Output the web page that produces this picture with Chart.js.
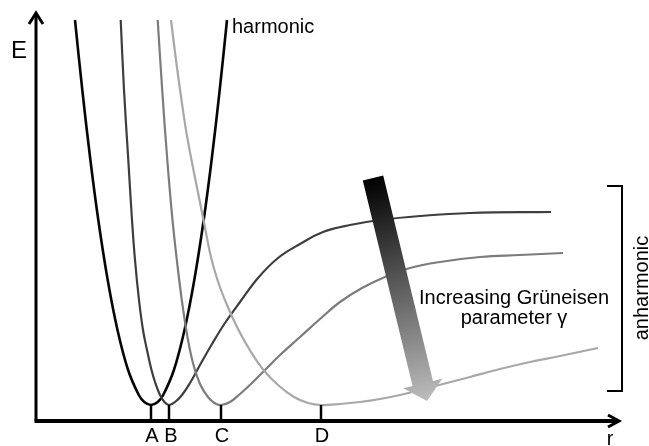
<!DOCTYPE html>
<html>
<head>
<meta charset="utf-8">
<script src="https://cdn.jsdelivr.net/npm/chart.js@4.4.1/dist/chart.umd.min.js"></script>
<style>
  html, body { margin: 0; padding: 0; background: #fff; }
  #wrap { width: 649px; height: 446px; position: relative; }
</style>
</head>
<body>
<div id="wrap"><canvas id="chart"></canvas></div>
<script>
// E(r) curves, arbitrary units (origin at the axes corner)

// harmonic well, minimum at A
const HARM_R = [39, 46.3, 54.4, 62.3, 71.7, 81.5, 92.1, 102.8, 108.3, 115, 121.7, 127.2, 137.9, 148.5, 158.3, 167.7, 175.6, 183.7, 191];
const HARM_E = [401, 331, 261, 201, 141, 91, 51, 26, 19, 16, 19, 26, 51, 91, 141, 201, 261, 331, 401];

// anharmonic wells, minima at B, C, D
const WELL_B_R = [84.7, 88, 92.3, 96, 99, 103, 107, 111, 115, 119, 124, 128.5, 133, 139, 146, 154, 164, 176, 189, 204, 222, 242, 264, 287, 314, 344, 384, 434, 515];
const WELL_B_E = [401, 331, 261, 201, 161, 121, 91, 71, 53, 39, 26, 19, 16, 19, 26, 38, 56, 77, 98, 119, 143, 163, 177, 189, 196, 201, 205, 208, 209];

const WELL_C_R = [121.7, 126.2, 131.3, 136.5, 142, 146.5, 152, 157.5, 164.5, 172, 178.5, 185, 194, 204, 216, 227, 244, 264, 284, 304, 326, 349, 374, 404, 444, 484, 527];
const WELL_C_E = [401, 331, 261, 201, 151, 116, 81, 56, 36, 24, 18, 16, 19, 27, 38, 49, 66, 84, 102, 119, 133, 144, 153, 159, 164, 166, 168];

const WELL_D_R = [135, 140, 145.5, 150, 155.5, 161.5, 168.5, 174.5, 181.5, 191, 202.5, 215, 227.5, 242, 258, 272, 285, 304, 324, 344, 364, 384, 407, 434, 464, 494, 524, 562];
const WELL_D_E = [401, 361, 321, 291, 261, 231, 196, 166, 141, 116, 91, 69, 51, 36, 24, 18, 16, 17, 19, 22, 26, 31, 37, 44, 52, 59, 65, 73];

// equilibrium positions marked on the r axis
const TICK_R = [115, 133, 185, 285];
const TICK_LABELS = ['A', 'B', 'C', 'D'];
const MIN_E = 16;

// "anharmonic" bracket and the Grüneisen arrow
const BRACKET_R = [571, 586, 586, 571];
const BRACKET_E = [235, 235, 30, 30];
const ARROW_FROM = [337, 243];
const ARROW_TO = [391, 20];

const FONT = '"Liberation Sans", Arial, sans-serif';

const toXY = (rs, es) => rs.map((r, i) => ({ x: r, y: es[i] }));

function curve(rs, es, color, width) {
  return {
    data: toXY(rs, es),
    borderColor: color,
    borderWidth: width,
    pointRadius: 0,
    fill: false,
    tension: 0.4
  };
}

const overlay = {
  id: 'overlay',
  afterDatasetsDraw(chart) {
    const { ctx, scales: { x, y } } = chart;
    const px = v => x.getPixelForValue(v);
    const py = v => y.getPixelForValue(v);
    ctx.save();
    ctx.strokeStyle = '#000';
    ctx.fillStyle = '#000';

    // markers at the minima
    ctx.lineWidth = 2.5;
    for (const r of TICK_R) {
      ctx.beginPath();
      ctx.moveTo(px(r), py(0));
      ctx.lineTo(px(r), py(MIN_E));
      ctx.stroke();
    }

    // axes with open arrow heads
    const x0 = px(0), y0 = py(0);
    const yTop = py(408), xEnd = px(583);
    ctx.lineWidth = 3;
    ctx.beginPath();
    ctx.moveTo(x0, y0);
    ctx.lineTo(x0, yTop + 1);
    ctx.stroke();
    ctx.beginPath();
    ctx.moveTo(x0 - 7, yTop + 11);
    ctx.lineTo(x0, yTop);
    ctx.lineTo(x0 + 7, yTop + 11);
    ctx.stroke();

    ctx.lineWidth = 4;
    ctx.beginPath();
    ctx.moveTo(x0 - 1.5, y0);
    ctx.lineTo(xEnd - 1, y0);
    ctx.stroke();
    ctx.lineWidth = 3;
    ctx.beginPath();
    ctx.moveTo(xEnd - 11, y0 - 6);
    ctx.lineTo(xEnd, y0);
    ctx.lineTo(xEnd - 11, y0 + 6);
    ctx.stroke();

    // gradient arrow
    const sx = px(ARROW_FROM[0]), sy = py(ARROW_FROM[1]);
    const tx = px(ARROW_TO[0]), ty = py(ARROW_TO[1]);
    const len = Math.hypot(tx - sx, ty - sy);
    const ux = (tx - sx) / len, uy = (ty - sy) / len;
    const nx = -uy, ny = ux;
    const shaft = 10.5, head = 20, headLen = 18;
    const bx = tx - ux * headLen, by = ty - uy * headLen;
    const grad = ctx.createLinearGradient(sx, sy, tx, ty);
    grad.addColorStop(0, '#000');
    grad.addColorStop(1, '#bdbdbd');
    ctx.fillStyle = grad;
    ctx.beginPath();
    ctx.moveTo(sx + nx * shaft, sy + ny * shaft);
    ctx.lineTo(bx + nx * shaft, by + ny * shaft);
    ctx.lineTo(bx + nx * head, by + ny * head);
    ctx.lineTo(tx, ty);
    ctx.lineTo(bx - nx * head, by - ny * head);
    ctx.lineTo(bx - nx * shaft, by - ny * shaft);
    ctx.lineTo(sx - nx * shaft, sy - ny * shaft);
    ctx.closePath();
    ctx.fill();

    // texts
    ctx.fillStyle = '#000';
    ctx.textBaseline = 'alphabetic';
    ctx.font = '24px ' + FONT;
    ctx.textAlign = 'center';
    ctx.fillText('E', 19, 58);

    ctx.font = '20px ' + FONT;
    TICK_LABELS.forEach((t, i) => ctx.fillText(t, px(TICK_R[i]) + (i === 1 ? 2 : 1), 442));
    ctx.fillText('r', 610, 445);

    ctx.textAlign = 'left';
    ctx.fillText('harmonic', px(HARM_R[HARM_R.length - 1]) + 5, 33);

    ctx.textAlign = 'center';
    ctx.fillText('Increasing Grüneisen', 514, 304);
    ctx.fillText('parameter γ', 514, 324);

    ctx.save();
    ctx.translate(648, 288);
    ctx.rotate(-Math.PI / 2);
    ctx.fillText('anharmonic', 0, 0);
    ctx.restore();

    ctx.restore();
  }
};

new Chart(document.getElementById('chart'), {
  type: 'line',
  data: {
    datasets: [
      curve(WELL_D_R, WELL_D_E, '#a8a8a8', 2.2),
      curve(WELL_C_R, WELL_C_E, '#7c7c7c', 2.2),
      curve(WELL_B_R, WELL_B_E, '#3e3e3e', 2.2),
      curve(HARM_R, HARM_E, '#050505', 2.6),
      {
        data: toXY(BRACKET_R, BRACKET_E),
        borderColor: '#000',
        borderWidth: 2,
        pointRadius: 0,
        tension: 0,
        fill: false
      }
    ]
  },
  options: {
    responsive: true,
    maintainAspectRatio: false,
    animation: false,
    events: [],
    layout: { padding: { left: 36, right: 3, top: 11, bottom: 25 } },
    plugins: { legend: { display: false }, tooltip: { enabled: false } },
    scales: {
      x: { type: 'linear', min: 0, max: 610, display: false },
      y: { type: 'linear', min: 0, max: 410, display: false }
    }
  },
  plugins: [overlay]
});
</script>
</body>
</html>
